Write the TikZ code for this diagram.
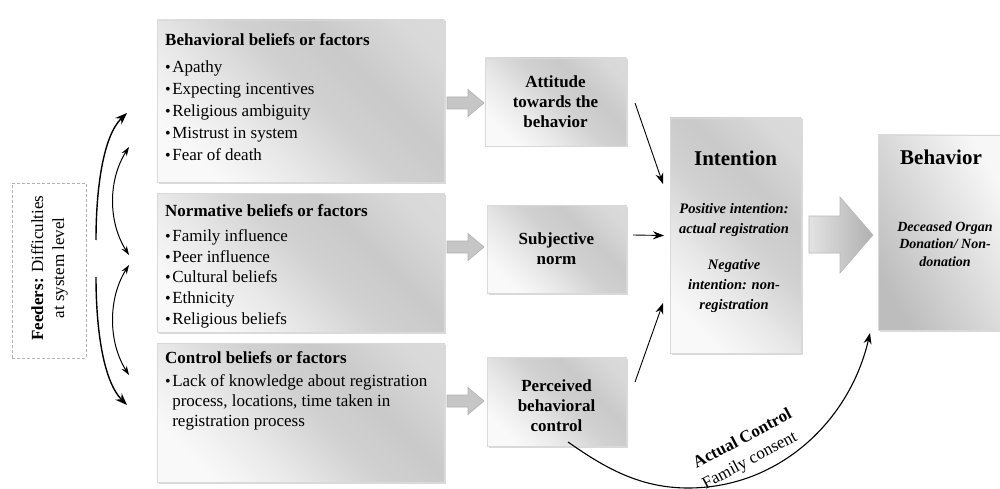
\documentclass[tikz,border=0pt]{standalone}
\usepackage{fontspec}
\setmainfont{Liberation Serif}
\usetikzlibrary{shadows,arrows.meta,calc}
\pgfdeclareverticalshading{boxshade}{100bp}{color(0bp)=(gray!26); color(22bp)=(gray!30); color(36bp)=(gray!42); color(48bp)=(gray!36); color(62bp)=(gray!18); color(75bp)=(gray!5); color(100bp)=(gray!4)}
\newcommand{\fs}[2]{\fontsize{#1}{#2}\selectfont}
\newcommand{\bul}{{\fontsize{16}{16}\selectfont\textbullet}\hspace{1.5pt}}
\begin{document}
\begin{tikzpicture}[x=1pt,y=-1pt,
  gbox/.style={draw=gray!30, line width=0.5pt, shading=boxshade, shading angle=135,
    drop shadow={opacity=0.3, shadow xshift=1.5pt, shadow yshift=-1.5pt},
    anchor=north west, inner sep=0pt, outer sep=0pt},
  behbox/.style={draw=gray!30, line width=0.5pt, left color=gray!52, right color=gray!6, shading angle=120,
    drop shadow={opacity=0.3, shadow xshift=1.5pt, shadow yshift=-1.5pt},
    anchor=north west, inner sep=0pt, outer sep=0pt},
  listtxt/.style={anchor=north west, align=left, inner sep=0pt},
  midtxt/.style={align=center, inner sep=0pt, font=\fs{17}{20}\bfseries},
  garr/.style={fill=gray!45, draw=gray!60, line width=0.6pt},
  arr/.style={-{Stealth[length=11pt,width=8pt]}, line width=0.9pt},
  larr/.style={-{Stealth[length=12pt,width=9pt]}, line width=1.4pt},
  darr/.style={{Stealth[length=9pt,width=6pt]}-{Stealth[length=9pt,width=6pt]}, line width=1pt}
]
\useasboundingbox (0,0) rectangle (1000,489);

% boxes
\node[gbox, minimum width=287pt, minimum height=162pt] (behav) at (157,20) {};
\node[gbox, minimum width=287pt, minimum height=139pt] (norm) at (157,193) {};
\node[gbox, minimum width=287pt, minimum height=139pt] (ctrl) at (157,343) {};
\node[gbox, minimum width=141pt, minimum height=88pt] (att) at (485,58) {};
\node[gbox, minimum width=139pt, minimum height=88pt] (subj) at (487,205) {};
\node[gbox, minimum width=139pt, minimum height=89pt] (pbc) at (487,357) {};
\node[gbox, minimum width=131pt, minimum height=235pt] (int) at (670,118) {};
\node[behbox, minimum width=126pt, minimum height=195pt] (beh) at (878,135) {};
\node[draw=gray!60, dash pattern=on 3pt off 2pt, line width=0.8pt, minimum width=74pt, minimum height=175pt, anchor=north west, inner sep=0pt] (feed) at (12,183) {};

% list texts
\node[listtxt, font=\fs{17}{21.8}] (behavT) at (165,33)
 {\textbf{Behavioral beliefs or factors}\\[6pt]
  \bul Apathy\\
  \bul Expecting incentives\\
  \bul Religious ambiguity\\
  \bul Mistrust in system\\
  \bul Fear of death};
\node[listtxt, font=\fs{17}{20.7}] (normT) at (165,204.5)
 {\textbf{Normative beliefs or factors}\\[4pt]
  \bul Family influence\\
  \bul Peer influence\\
  \bul Cultural beliefs\\
  \bul Ethnicity\\
  \bul Religious beliefs};
\node[listtxt, font=\fs{17}{20}] (ctrlT) at (165,351.5)
 {\textbf{Control beliefs or factors}\\[3pt]
  \bul Lack of knowledge about registration\\
  \hphantom{\bul}process, locations, time taken in\\
  \hphantom{\bul}registration process};

% middle texts
\node[midtxt] (attT) at (att.center) {Attitude\\towards the\\behavior};
\node[midtxt] (subjT) at (subj.center) {Subjective\\norm};
\node[midtxt] (pbcT) at ($(pbc.center)+(0,4)$) {Perceived\\behavioral\\control};

% intention / behavior
\node[inner sep=0pt, font=\fs{21}{24}\bfseries] (intT) at (735.5,158) {Intention};
\node[inner sep=0pt, align=center, font=\fs{14.5}{20}\bfseries\itshape] (intB) at (734,258)
 {Positive intention:\\actual registration\\[16pt]Negative\\intention: non-\\registration};
\node[inner sep=0pt, font=\fs{21}{24}\bfseries] (behT) at (941,157) {Behavior};
\node[inner sep=0pt, align=center, font=\fs{14}{17.5}\bfseries\itshape] (behB) at (945,244)
 {Deceased Organ\\Donation/ Non-\\donation};

% feeders text
\node[rotate=90, align=center, inner sep=0pt, font=\fs{17}{21}] (feedT) at (49.5,268)
 {\textbf{Feeders:} Difficulties\\at system level};

% grey block arrows
\foreach \yy in {103,247,401}{
  \path[garr] (447,\yy-6) -- (468,\yy-6) -- (468,\yy-13.5) -- (484,\yy) -- (468,\yy+13.5) -- (468,\yy+6) -- (447,\yy+6) -- cycle;
}
\path[draw=gray!55, line width=0.6pt, left color=gray!22, right color=gray!62]
  (809,216) -- (840,216) -- (840,197) -- (873,235) -- (840,273) -- (840,253) -- (809,253) -- cycle;

% black arrows to intention
\draw[arr] ($(att.east)+(9,1)$) -- ($(int.west)+(-7,-51.5)$);
\draw[arr] ($(subj.east)+(7,-14)$) -- ($(int.west)+(-6,0)$);
\draw[arr] ($(pbc.east)+(9,-19.5)$) -- ($(int.west)+(-7,67.5)$);

% actual control
\coordinate (acbot) at (688,488);
\draw[arr, line width=1.1pt] ($(pbc.south)+(11.5,-4)$) .. controls (605,468) and (640,488) .. (acbot)
   .. controls (780,488) and (850,420) .. ($(beh.south west)+(-8,3)$);
\node[rotate=28, inner sep=0pt, font=\fs{17}{20}\bfseries] (acl) at (742,438) {Actual Control};
\node[rotate=28, inner sep=0pt, font=\fs{17}{20}] (fcl) at (750,461) {Family consent};

% feeder arrows
\coordinate (la1) at (96,240);
\coordinate (la1e) at (127,113);
\coordinate (la2) at (96,277);
\coordinate (la2e) at (127,405);
\coordinate (da1) at (129,147);
\coordinate (da1e) at (129,255);
\coordinate (da2) at (129,265);
\coordinate (da2e) at (129,375);
\draw[larr] (la1) .. controls (96,185) and (104,135) .. (la1e);
\draw[larr] (la2) .. controls (96,332) and (104,382) .. (la2e);
\draw[darr] (da1) .. controls (108,180) and (108,222) .. (da1e);
\draw[darr] (da2) .. controls (108,298) and (108,342) .. (da2e);
\end{tikzpicture}
\end{document}
